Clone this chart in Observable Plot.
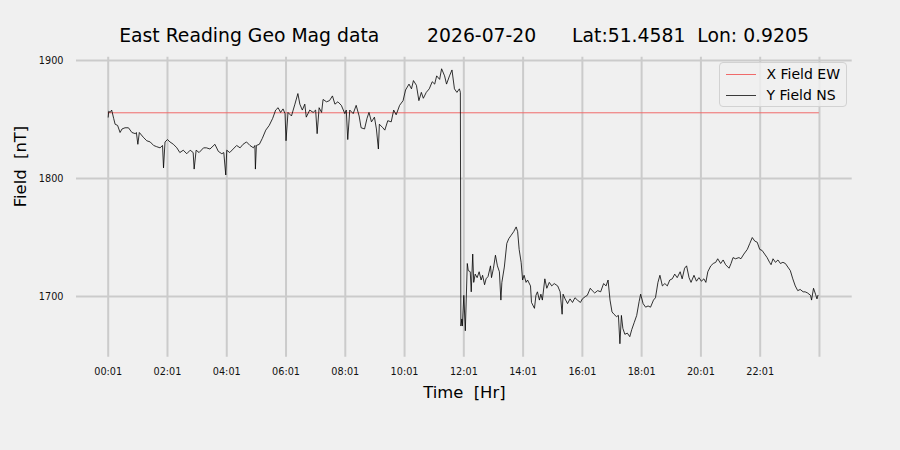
<!DOCTYPE html>
<html>
<head>
<meta charset="utf-8">
<script src="https://cdn.jsdelivr.net/npm/d3@7"></script>
<script src="https://cdn.jsdelivr.net/npm/@observablehq/plot@0.6"></script>
<style>
  html, body { margin: 0; padding: 0; background: #f0f0f0; }
  #wrap { position: relative; width: 900px; height: 450px; background: #f0f0f0; font-family: "DejaVu Sans", sans-serif; overflow: hidden; }
  #title { position: absolute; left: 76px; width: 776px; top: 0; height: 22px; padding-top: 26px; font-size: 18.8px; line-height: 19px; text-align: center; white-space: pre; color: #000; }
  #chart { position: absolute; left: 0; top: 48px; }
  #chart svg text { white-space: pre; }
  #legend { position: absolute; left: 719px; top: 61.5px; width: 128px; height: 45.5px; border: 1px solid #d2d2d2; border-radius: 4px; background: rgba(240,240,240,0.8); box-sizing: border-box; }
  .item { position: absolute; left: 0; height: 20px; width: 128px; }
  .item .sw { position: absolute; left: 6px; width: 30px; top: 10px; height: 0; border-top: 1px solid; }
  .item .lb { position: absolute; left: 46.5px; top: 0; font-size: 14px; line-height: 20px; color: #000; white-space: pre; }
</style>
</head>
<body>
<div id="wrap">
  <div id="title"></div>
  <div id="chart"></div>
  <div id="legend"></div>
</div>
<script>
// ---- data ----
const titleText = "East Reading Geo Mag data        2026-07-20      Lat:51.4581  Lon: 0.9205";
const xLabel = "Time  [Hr]";
const yLabel = "Field  [nT]";

const seriesNames = ["X Field EW", "Y Field NS"];
const seriesColors = ["#f06a6a", "#3a3a3a"];

// X Field EW (flat reference)
const xMinutes = [1, 1439];
const xField = [1855.7, 1855.7];

// Y Field NS (minutes after midnight)
const yMinutes = [1,2,5,8,12,15,20,25,29,35,42,49,56,58,61,64,72,79,86,93,99,106,111,113,116,121,126,133,140,146,153,160,167,173,175,179,185,194,200,207,217,224,231,235,239,241,247,254,261,268,274,281,288,295,298,299,301,307,313,320,327,334,340,345,350,355,359,361,365,372,379,385,389,394,399,402,409,416,421,424,428,433,436,443,449,455,460,466,473,480,483,486,490,497,503,509,513,520,525,529,534,540,544,548,550,557,561,567,574,579,584,591,598,603,610,615,619,625,630,635,639,645,651,657,662,666,672,676,682,686,692,697,702,707,712,714,715,717,718,721,724,728,730,734,736,739,741,744,748,752,756,759,763,766,770,775,777,781,785,789,793,796,798,803,808,812,817,822,827,830,833,837,840,843,847,850,856,858,864,867,870,874,877,880,885,889,894,899,904,911,916,920,922,926,931,936,941,946,951,957,961,967,971,977,981,986,992,998,1004,1009,1013,1017,1021,1025,1030,1034,1037,1040,1043,1047,1052,1057,1061,1066,1071,1076,1079,1084,1089,1094,1099,1105,1109,1114,1118,1123,1128,1133,1138,1143,1148,1153,1159,1163,1168,1172,1177,1181,1187,1192,1197,1202,1207,1211,1215,1221,1226,1231,1235,1241,1246,1251,1258,1262,1266,1271,1278,1282,1288,1295,1300,1305,1310,1315,1320,1325,1330,1335,1340,1343,1347,1352,1357,1362,1367,1372,1377,1382,1387,1392,1397,1402,1408,1412,1417,1423,1425,1429,1433,1436,1438];
const yField = [1852,1857,1856,1858,1851,1846,1845,1839,1842,1843,1843,1839,1838,1839,1829,1839,1835,1832,1831,1828,1827,1826,1828,1809,1831,1833,1831,1829,1826,1822,1824,1821,1824,1822,1808,1824,1822,1826,1826,1825,1829,1823,1821,1822,1803,1824,1822,1825,1828,1826,1829,1831,1828,1826,1828,1808,1828,1829,1834,1841,1845,1851,1858,1860,1856,1859,1855,1832,1856,1853,1863,1872,1863,1858,1863,1852,1858,1856,1858,1838,1860,1856,1867,1865,1866,1870,1863,1865,1862,1855,1858,1833,1858,1855,1862,1853,1843,1842,1851,1856,1848,1852,1842,1825,1846,1843,1841,1849,1848,1858,1854,1862,1866,1875,1880,1876,1883,1879,1866,1873,1868,1873,1876,1882,1880,1887,1884,1893,1887,1880,1887,1892,1876,1873,1876,1873,1675,1681,1675,1701,1671,1728,1722,1721,1704,1736,1712,1719,1716,1721,1714,1718,1710,1715,1717,1726,1716,1724,1735,1726,1721,1697,1712,1725,1745,1749,1752,1755,1759,1755,1740,1729,1714,1718,1712,1714,1709,1695,1690,1701,1704,1697,1702,1697,1715,1707,1712,1709,1711,1709,1704,1685,1702,1698,1694,1698,1695,1699,1697,1695,1698,1700,1701,1707,1705,1703,1705,1704,1711,1709,1714,1697,1687,1685,1683,1684,1660,1684,1673,1668,1669,1666,1672,1678,1684,1696,1702,1694,1691,1692,1691,1697,1699,1712,1718,1709,1711,1709,1714,1715,1719,1716,1721,1715,1724,1726,1716,1712,1718,1713,1716,1713,1715,1712,1721,1726,1728,1729,1732,1728,1731,1727,1724,1728,1733,1732,1733,1732,1736,1740,1745,1750,1747,1746,1740,1739,1736,1733,1729,1727,1732,1729,1731,1728,1729,1728,1725,1722,1715,1709,1705,1706,1704,1704,1703,1701,1697,1707,1702,1698,1701];

// ticks
const xTickMinutes = [1,121,241,361,481,601,721,841,961,1081,1201,1321,1441];
const xTickLabels = ["00:01","02:01","04:01","06:01","08:01","10:01","12:01","14:01","16:01","18:01","20:01","22:01",""];
const yTicks = [1700, 1800, 1900];

// ---- build ----
document.getElementById("title").textContent = titleText;

const xData = xMinutes.map((m, i) => ({m, v: xField[i]}));
const yData = yMinutes.map((m, i) => ({m, v: yField[i]}));
const gridColor = "#cbcbcb";

const chart = Plot.plot({
  width: 900,
  height: 402,
  marginLeft: 76,
  marginRight: 48.3,
  marginTop: 8.7,
  marginBottom: 93.3,
  style: {background: "#f0f0f0", fontFamily: "DejaVu Sans, sans-serif", fontSize: "9.7px", color: "#111", overflow: "visible"},
  x: {domain: [-63.2, 1507.3]},
  y: {domain: [1648.6, 1902.8]},
  marks: [
    Plot.gridX(xTickMinutes, {stroke: gridColor, strokeOpacity: 1, strokeWidth: 2}),
    Plot.gridY(yTicks, {stroke: gridColor, strokeOpacity: 1, strokeWidth: 2}),
    Plot.axisX(xTickMinutes, {tickSize: 0, tickPadding: 11, label: null, fontSize: 9.7,
      tickFormat: (d) => xTickLabels[xTickMinutes.indexOf(d)]}),
    Plot.axisY(yTicks, {tickSize: 0, tickPadding: 13, label: null, fontSize: 9.7, tickFormat: (d) => String(d)}),
    Plot.line(xData, {x: "m", y: "v", stroke: seriesColors[0], strokeWidth: 1}),
    Plot.line(yData, {x: "m", y: "v", stroke: "#000", strokeWidth: 0.8, strokeLinejoin: "miter"}),
    Plot.text([xLabel], {frameAnchor: "bottom", dy: 36, lineAnchor: "middle", fontSize: 16.4, fill: "#000"}),
    Plot.text([yLabel], {frameAnchor: "left", dx: -55.5, rotate: -90, lineAnchor: "middle", fontSize: 16.4, fill: "#000"})
  ]
});
document.getElementById("chart").appendChild(chart);

// legend
const legend = document.getElementById("legend");
seriesNames.forEach((name, i) => {
  const it = document.createElement("div");
  it.className = "item";
  it.style.top = (1.3 + i * 21) + "px";
  const sw = document.createElement("div");
  sw.className = "sw";
  sw.style.borderTopColor = seriesColors[i];
  const lb = document.createElement("div");
  lb.className = "lb";
  lb.textContent = name;
  it.appendChild(sw);
  it.appendChild(lb);
  legend.appendChild(it);
});
</script>
</body>
</html>
